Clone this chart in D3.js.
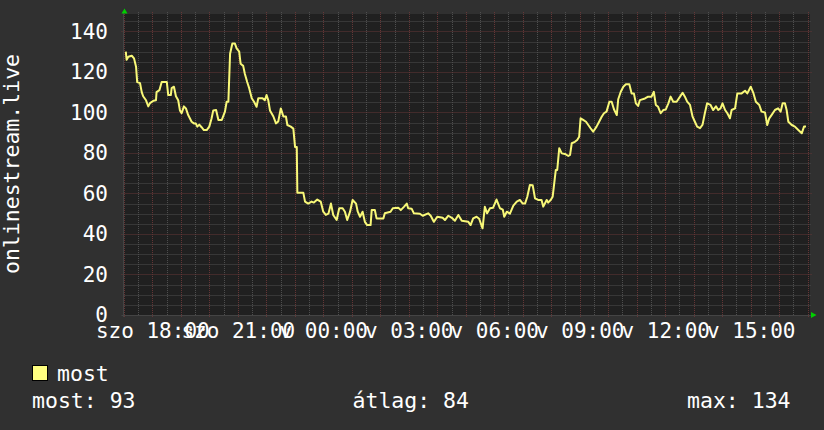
<!DOCTYPE html>
<html>
<head>
<meta charset="utf-8">
<script src="https://cdn.jsdelivr.net/npm/d3@7"></script>
<style>
body { margin: 0; background: #303030; }
svg text { font-family: "DejaVu Sans Mono", monospace; font-size: 21px; fill: #ffffff; }
.big { font-size: 21.5px; }
</style>
</head>
<body>
<svg id="chart" width="824" height="430"></svg>
<script>
// hours counted from saturday 00:00
var hours = [
    17.07,17.10,17.16,17.28,17.36,17.43,17.47,17.57,17.63,17.68,17.78,17.86,17.92,18.04,18.13,18.15,18.25,18.33,18.51,18.56,
    18.65,18.68,18.76,18.83,18.91,18.97,19.03,19.11,19.18,19.26,19.38,19.46,19.53,19.58,19.65,19.73,19.81,19.91,20.00,20.08,
    20.14,20.24,20.32,20.44,20.55,20.61,20.67,20.73,20.81,20.90,20.96,21.05,21.10,21.19,21.25,21.33,21.40,21.49,21.57,21.66,
    21.72,21.87,21.95,22.01,22.07,22.13,22.25,22.34,22.42,22.51,22.60,22.69,22.74,22.86,22.95,23.01,23.07,23.09,23.30,23.36,
    23.47,23.59,23.67,23.79,23.91,24.00,24.09,24.18,24.27,24.35,24.47,24.56,24.68,24.76,24.84,24.94,25.03,25.15,25.21,25.29,
    25.38,25.46,25.54,25.66,25.70,25.81,25.87,26.11,26.16,26.36,26.44,26.63,26.72,26.83,26.93,26.98,27.10,27.18,27.39,27.49,
    27.68,27.77,27.88,28.00,28.19,28.27,28.39,28.51,28.62,28.74,28.86,29.09,29.17,29.26,29.38,29.47,29.59,29.67,29.75,29.85,
    29.96,30.08,30.20,30.30,30.35,30.44,30.55,30.67,30.79,30.90,31.00,31.08,31.16,31.25,31.35,31.43,31.54,31.66,31.72,31.84,
    31.89,31.98,32.05,32.09,32.16,32.21,32.28,32.37,32.48,32.60,32.66,32.72,32.83,32.91,32.98,33.03,33.12,33.22,33.30,33.38,
    33.47,33.59,33.68,33.77,33.85,33.94,34.04,34.12,34.20,34.30,34.35,34.44,34.53,34.62,34.74,34.82,34.90,34.97,35.05,35.11,
    35.29,35.40,35.52,35.60,35.67,35.75,35.84,35.93,36.02,36.11,36.19,36.28,36.40,36.52,36.61,36.69,36.77,36.87,36.96,37.04,
    37.12,37.22,37.31,37.39,37.47,37.59,37.68,37.78,37.86,37.94,38.01,38.10,38.18,38.27,38.33,38.45,38.53,38.68,38.80,38.88,
    39.00,39.09,39.18,39.30,39.38,39.50,39.58,39.65,39.73,39.85,39.96,40.05,40.12,40.20,40.26,40.32,40.44,40.55,40.67,40.79,
    40.87,40.94
];
var values = [
    130,126,127.5,128,126.7,122.6,115,114.5,110,108,106,103,104.6,105.8,106,110,111,115,115,108.6,
    108.6,112,112.7,108,106,101,99.6,103,102,98.7,95.4,94.6,94.5,93,94,92.7,91.3,91.3,93,97,
    101,101.2,96.3,96.3,100.4,105.3,105.3,129,134,134,131.6,130,124,123,119,115,112,107,105.3,102.8,
    107,107,106,108.6,106,101,98,94.6,95.5,102,98,98,93.8,93,92,83,83,60.4,60.4,56,
    55,56,55.5,57,56,51,49.4,50,55,49.4,46.9,52.7,52.7,51,46.9,51,56.8,55,51,48.5,
    51,46,44.4,44.4,51.8,51.8,47.7,47.7,50.2,51,52.7,53,51.8,53.4,55,52.7,52.5,50.2,50,49,
    50.2,49,46,48.5,48,46.9,49,48,46.5,49.4,46.5,46,44.4,47.7,48.5,47.5,42.8,53.4,50.2,52.7,
    53,57,52.7,52,48.5,51,50,54,56,56.8,55,55,58.4,64.2,64,57.6,56.8,56.8,53.5,56.8,
    55.5,56.8,58.4,63.3,71.6,71.6,82.3,79.8,79.5,78.5,79,84.8,85.5,86.4,88,97.1,96.3,95.4,93.8,92.2,
    90.5,93,95.4,97.9,99.6,100.4,105.3,105.3,101.6,98.7,106.5,110.2,112.7,113.9,113.9,109.4,109.4,104.5,103.2,106.1,
    106.9,107.8,107.8,110.2,103.7,102.8,99.6,101.2,101.5,104.5,107.8,105.3,105.3,107.8,109.7,107.8,105.3,103.7,97.9,95.4,
    93,92.2,94,99.6,104.5,103.7,101.2,103,101.2,102,104.5,101.2,99.6,97.1,101.2,102,109.4,109.4,110.7,109.4,
    112.7,109.7,105.3,103.7,100.4,100,93.8,97.1,98.7,101.2,102,100.4,104.5,104.5,101.2,95.4,93.8,93,91.3,89.7,
    93,93
];
var yTicks = [0, 20, 40, 60, 80, 100, 120, 140];
var yTitle = 'onlinestream.live';
var seriesName = 'most';
var statLabels = ['most', 'átlag', 'max'];
var statValues = [93, 84, 134];

var plotL = 123.5, plotR = 810, plotT = 14, plotB = 315;
var day0 = new Date(2024, 5, 15); // szombat

function toDate(h) {
    return new Date(day0.getTime() + h * 3600 * 1000);
}

var hu = d3.timeFormatLocale({
    dateTime: '%Y. %B %-e., %A %X',
    date: '%Y. %m. %d.',
    time: '%H:%M:%S',
    periods: ['de.', 'du.'],
    days: ['vasárnap', 'hétfő', 'kedd', 'szerda', 'csütörtök', 'péntek', 'szombat'],
    shortDays: ['v', 'h', 'k', 'sze', 'cs', 'p', 'szo'],
    months: ['január', 'február', 'március', 'április', 'május', 'június', 'július', 'augusztus', 'szeptember', 'október', 'november', 'december'],
    shortMonths: ['jan.', 'feb.', 'már.', 'ápr.', 'máj.', 'jún.', 'júl.', 'aug.', 'szept.', 'okt.', 'nov.', 'dec.']
});

var x = d3.scaleTime()
    .domain([toDate(16.99), toDate(41.08)])
    .range([plotL, plotR]);
var y = d3.scaleLinear()
    .domain([0, 148.6])
    .range([plotB, plotT]);

var svg = d3.select('#chart');

svg.append('rect')
    .attr('x', plotL)
    .attr('y', plotT)
    .attr('width', plotR - plotL)
    .attr('height', plotB - plotT)
    .attr('fill', '#202020');

function px(v) { return Math.round(v) + 0.5; }

// grid: minor first, then the red major lines
var grid = svg.append('g').attr('stroke-dasharray', '1,1').attr('stroke-width', 1);

var hourTicks = x.ticks(d3.timeHour.every(1)).map(function(d) { return +d; });
var minorX = x.ticks(d3.timeMinute.every(30)).filter(function(d) { return hourTicks.indexOf(+d) < 0; });
var minorY = d3.range(5, 149, 5).filter(function(d) { return d % 20 !== 0; });
var majorY = d3.range(20, 149, 20);

grid.selectAll('.mx')
    .data(minorX)
    .enter()
    .append('line')
    .attr('x1', function(d) { return px(x(d)); })
    .attr('x2', function(d) { return px(x(d)); })
    .attr('y1', plotT - 2)
    .attr('y2', plotB)
    .attr('stroke', '#4e4e4e');

grid.selectAll('.my')
    .data(minorY)
    .enter()
    .append('line')
    .attr('x1', plotL)
    .attr('x2', plotR + 1)
    .attr('y1', function(d) { return px(y(d)); })
    .attr('y2', function(d) { return px(y(d)); })
    .attr('stroke', '#4e4e4e');

grid.selectAll('.Mx')
    .data(hourTicks)
    .enter()
    .append('line')
    .attr('x1', function(d) { return px(x(d)); })
    .attr('x2', function(d) { return px(x(d)); })
    .attr('y1', plotT - 2)
    .attr('y2', plotB + 3)
    .attr('stroke', '#653636');

grid.selectAll('.My')
    .data(majorY)
    .enter()
    .append('line')
    .attr('x1', plotL - 2)
    .attr('x2', plotR + 2)
    .attr('y1', function(d) { return px(y(d)); })
    .attr('y2', function(d) { return px(y(d)); })
    .attr('stroke', '#653636');

// axis lines and the green arrows
svg.append('line')
    .attr('x1', plotL - 2).attr('x2', plotR + 2)
    .attr('y1', plotB + 0.5).attr('y2', plotB + 0.5)
    .attr('stroke', '#444444');
svg.append('line')
    .attr('x1', plotL).attr('x2', plotL)
    .attr('y1', plotT - 2).attr('y2', plotB + 2)
    .attr('stroke', '#444444');
svg.append('path')
    .attr('d', 'M121.5,13.5 L127.5,13.5 L124.5,8.5 Z')
    .attr('fill', '#00d000');
svg.append('path')
    .attr('d', 'M811,312 L811,318 L816.5,315 Z')
    .attr('fill', '#00d000');

var points = hours.map(function(h, i) { return [toDate(h), values[i]]; });

svg.append('path')
    .datum(points)
    .attr('fill', 'none')
    .attr('stroke', '#f8f878')
    .attr('stroke-width', 2)
    .attr('stroke-linejoin', 'round')
    .attr('d', d3.line()
        .x(function(d) { return x(d[0]); })
        .y(function(d) { return y(d[1]); }));

// tick labels
var xAxis = svg.append('g')
    .attr('transform', 'translate(0,' + plotB + ')')
    .call(d3.axisBottom(x)
        .ticks(d3.timeHour.every(3))
        .tickFormat(hu.format('%a %H:%M'))
        .tickSize(0)
        .tickPadding(8));
xAxis.select('.domain').remove();

var yAxis = svg.append('g')
    .attr('transform', 'translate(' + plotL + ',0)')
    .call(d3.axisLeft(y)
        .tickValues(yTicks)
        .tickSize(0)
        .tickPadding(15.5));
yAxis.select('.domain').remove();

svg.append('text')
    .attr('class', 'big')
    .attr('transform', 'translate(18.5,164) rotate(-90)')
    .attr('text-anchor', 'middle')
    .text(yTitle);

// legend
svg.append('rect')
    .attr('x', 32.5)
    .attr('y', 365.5)
    .attr('width', 15)
    .attr('height', 15)
    .attr('fill', '#ffff80')
    .attr('stroke', '#000000');
svg.append('text')
    .attr('class', 'big')
    .attr('x', 57)
    .attr('y', 380.5)
    .text(seriesName);

var statX = [32, 352.5, 687];
svg.selectAll('.stat')
    .data(statLabels)
    .enter()
    .append('text')
    .attr('class', 'big')
    .attr('x', function(d, i) { return statX[i]; })
    .attr('y', 408)
    .text(function(d, i) { return d + ': ' + statValues[i]; });
</script>
</body>
</html>
